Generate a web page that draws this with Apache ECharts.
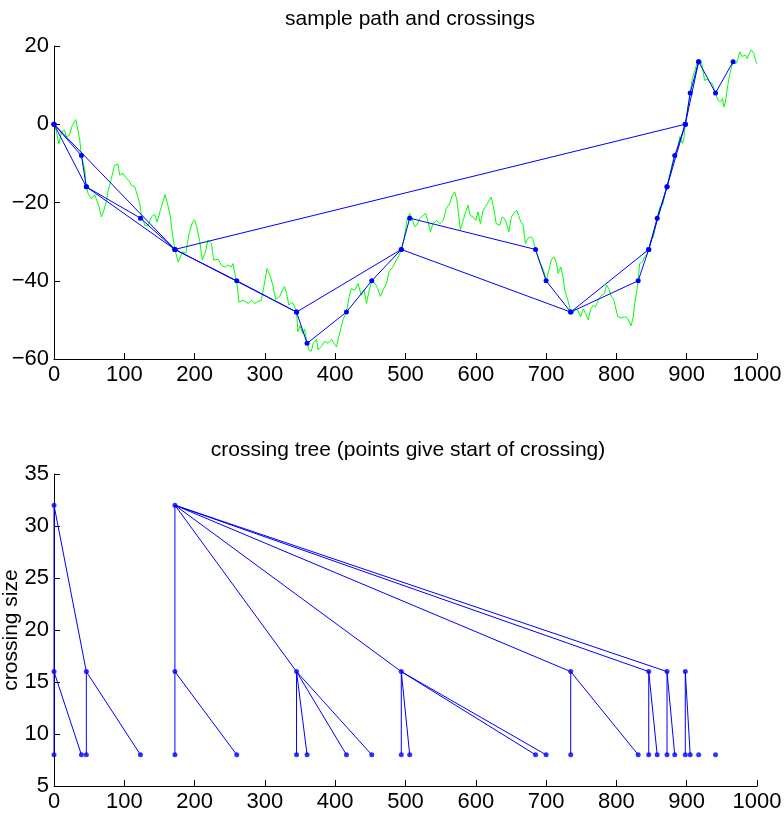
<!DOCTYPE html>
<html>
<head>
<meta charset="utf-8">
<script src="https://cdn.jsdelivr.net/npm/echarts@6/dist/echarts.min.js"></script>
<style>html,body{margin:0;padding:0;background:#fff}#c{width:784px;height:814px}</style>
</head>
<body>
<div id="c"></div>
<script>
// ---- sample path ----
var pathT = [0,3,7,10.5,15,17.6,22,26,31,34,36.6,39,43.7,46,48.5,53,58,64,67.4,71,74.5,77,81.6,86,91,93.5,98,103,107,110,115,117.4,122,124,129,133.5,138.5,143,146.7,151.3,155,158,162,165.5,169,172,176.5,179.7,182.6,187.4,192,197,200,203,207,211,216,219,224,227,233.6,238,243,247.6,252,254.6,258.5,260,263,269,276,281,285.6,290,295,299.7,303,307,310.7,315.4,321,325,328,330.6,334,339,342.4,345,347,350,354,356.4,360,362.8,366,368.7,373.5,375.6,380,385,390,395,398,401.7,406.4,411,416,420,423,428,432.5,437,441,444.5,448.5,452,456.5,460,464.3,468,473,476.6,482,487,491,494,497.5,500.3,502.7,506,509.5,513,516,520,525,528.7,532,535.4,539,544,549,553.6,558,563,566.7,570,573,576,578,582,585.6,589,592,596,600,603,606.5,610.4,615,617,622,626,629,634,637.6,641,645,647,650.6,654,658,661,664,667,670.6,674,678,681,685,689.5,693,697,700,703.7,707.5,711,714.6,717,721,724,726.5,729,731,735,738,741,745,749,752.7,756,760,763.5,767,770,774,778,783,786,789.6,792.6,796,799,802,807,811,814.4,817,821,824,826,828.5,831,833,837,840,843.5,846,849,852.5,855.6,858,862,866,870,872,877,880.5,883,888,890,892.6,894,896,898,900.4,903,905,908,911,914.6,917,921,923,925.6,929,932.7,936.5,941,942,944.6,948,951,952.6,955,957.4,960,962.6,966,970,973,975.5,979,983,986,989,992,995.6,998,1000];
var pathV = [0,-1.5,-5,-2,-1.5,-3.2,-2.8,-0.3,1.2,-1.5,-4,-8,-11.7,-16,-17.7,-19,-18,-21,-23.7,-22,-19.8,-17,-13.9,-10.5,-10.2,-13,-12.5,-13.9,-14.5,-15.6,-16,-16,-20.3,-22.8,-25.8,-26,-23.7,-23,-25,-22,-19.8,-18,-20.7,-23.7,-28.8,-32,-35.2,-34,-32.6,-33,-28,-25,-24.4,-26.2,-29.6,-34.7,-32.2,-29.6,-30.5,-34.7,-34.5,-36,-36.5,-36,-36.5,-35.6,-39.4,-40,-45.4,-45,-45.8,-45,-45.8,-45.3,-45,-40.3,-36.9,-38.5,-40.7,-44.8,-44,-42.4,-41.5,-43,-46.2,-45.5,-46.7,-48,-53,-51.5,-53.5,-52.3,-56,-57.7,-58,-56,-55,-57.7,-56.8,-55.5,-56,-55,-56,-56.9,-53.4,-50,-48,-44,-42,-42.4,-40.7,-43.7,-42.3,-45.8,-42.4,-40,-40.6,-41.8,-44,-42.4,-40.7,-37.7,-36.5,-34.7,-33.5,-32,-29.6,-26.6,-24.1,-22.8,-24.1,-26.2,-25.8,-24.1,-23.3,-22.8,-24.9,-27.5,-25.4,-24.6,-25.4,-24.6,-21.5,-20.2,-18.1,-17.3,-19.3,-23.7,-27,-24.6,-22.4,-20.7,-23.3,-23.7,-24.6,-22.4,-25.4,-22,-20.7,-20.7,-18.6,-22,-25.4,-25.8,-23.7,-24.1,-26.2,-27.5,-23.7,-22.8,-22,-23.3,-25,-25.4,-30.5,-29.2,-28.8,-29.2,-32,-34.7,-36,-37.7,-40,-37.5,-34.7,-33.9,-35.3,-38.1,-36.5,-39,-42.4,-43.9,-45,-48,-48.3,-47.2,-47.5,-49.2,-47.2,-48.3,-50,-47.2,-46.3,-46.7,-45,-43.9,-43.2,-41.1,-42.2,-43.9,-44.7,-47,-49.2,-49.5,-49.2,-49.4,-50,-51.5,-49.2,-45.8,-43.2,-40,-35.6,-35.2,-33.9,-33.2,-32,-29.6,-28.9,-26.2,-24,-21.1,-20.6,-17,-16,-12.2,-9.2,-8,-6.2,-3.2,-2.8,-4.9,-3.6,0,2.7,5.7,8,11.7,13.4,15.5,16,16,13.8,11.2,11.5,10.8,10.4,8,7.8,6.1,5.7,6.6,4.4,5.7,8.7,11.7,13.8,16,15.5,16.8,18.5,17.3,17.7,16.8,18.1,19,18.1,16.3,15.5];

// ---- crossings ----
var level8Starts  = [0,39,46,123,172,260,345,360,416,452,494,506,685,700,735,831,846,858,872,883,898,905,917,941];
var level8Values  = [0,-8,-16,-24,-32,-40,-48,-56,-48,-40,-32,-24,-32,-40,-48,-40,-32,-24,-16,-8,0,8,16,8];
var level8LastT = 966, level8LastV = 16;
var level16Starts = [0,46,172,345,494,735,846,872,898];
var level16Ends   = [46,172,345,494,735,846,872,898,917];
var level16Values = [0,-16,-32,-48,-32,-48,-32,-16,0];
var level16LastV = 16;
var level32Starts = [0,172];
var level32Ends   = [172,898];
var level32Values = [0,-32];
var level32LastV = 0;

// ---- ticks ----
var topYTicks = {min:-60, max:20, interval:20};
var botYTicks = {min:5, max:35, interval:5};
var xTicks = {min:0, max:1000, interval:100};

var BLUE = '#0000ff', GREEN = '#00ff00';
var FONT = 'Liberation Sans, Arial, Helvetica, sans-serif';
var FS = 22, TFS = 21;

function zip(a, b){ return a.map(function(v,i){return [v,b[i]];}); }

var path = zip(pathT, pathV);
var c8 = zip(level8Starts, level8Values).concat([[level8LastT, level8LastV]]);
var c16 = zip(level16Starts, level16Values).concat([[level16Ends[level16Ends.length-1], level16LastV]]);
var c32 = zip(level32Starts, level32Values).concat([[level32Ends[level32Ends.length-1], level32LastV]]);

var edges = [];
function addEdges(pStarts, pEnds, pSize, cStarts, cSize){
  pStarts.forEach(function(s, i){
    var e = pEnds[i];
    cStarts.forEach(function(cs){
      if (cs >= s && cs < e) edges.push([[s, pSize],[cs, cSize]]);
    });
  });
}
addEdges(level32Starts, level32Ends, 32, level16Starts, 16);
addEdges(level16Starts, level16Ends, 16, level8Starts, 8);

var treePts = level32Starts.map(function(s){return [s,32];})
  .concat(level16Starts.map(function(s){return [s,16];}))
  .concat(level8Starts.map(function(s){return [s,8];}));

function fmt(v){ return String(v).replace('-', '\u2212'); }

function axisCommon(){
  return {
    axisLine:{show:true, onZero:false, lineStyle:{color:'#000', width:1}},
    axisTick:{show:true, inside:true, length:6, lineStyle:{color:'#000', width:1}},
    axisLabel:{color:'#000', fontSize:FS, fontFamily:FONT, margin:5, formatter:fmt},
    splitLine:{show:false}
  };
}
function mk(extra){ var o = axisCommon(); for (var k in extra) o[k]=extra[k]; return o; }

var series = [
  {type:'line', xAxisIndex:0, yAxisIndex:0, data:path, showSymbol:false, symbol:'none',
   lineStyle:{color:GREEN, width:1}, animation:false, z:1},
  {type:'line', xAxisIndex:0, yAxisIndex:0, data:c8, symbol:'circle', symbolSize:5,
   itemStyle:{color:BLUE}, lineStyle:{color:BLUE, width:1}, animation:false, z:3},
  {type:'line', xAxisIndex:0, yAxisIndex:0, data:c16, symbol:'circle', symbolSize:5,
   itemStyle:{color:BLUE}, lineStyle:{color:BLUE, width:1}, animation:false, z:3},
  {type:'line', xAxisIndex:0, yAxisIndex:0, data:c32, symbol:'circle', symbolSize:5,
   itemStyle:{color:BLUE}, lineStyle:{color:BLUE, width:1}, animation:false, z:3}
];
edges.forEach(function(e){
  series.push({type:'line', xAxisIndex:1, yAxisIndex:1, data:e, symbol:'none',
    lineStyle:{color:BLUE, width:1}, animation:false, z:2});
});
series.push({type:'scatter', xAxisIndex:1, yAxisIndex:1, data:treePts, symbol:'circle', symbolSize:5,
  itemStyle:{color:BLUE}, animation:false, z:3});

var chart = echarts.init(document.getElementById('c'), null, {renderer:'canvas'});
chart.setOption({
  backgroundColor:'#fff',
  animation:false,
  title:[
    {text:'sample path and crossings', left:410, top:9, padding:0, textAlign:'center',
     textStyle:{fontSize:TFS, fontWeight:'normal', color:'#000', fontFamily:FONT}},
    {text:'crossing tree (points give start of crossing)', left:408, top:440, padding:0, textAlign:'center',
     textStyle:{fontSize:TFS, fontWeight:'normal', color:'#000', fontFamily:FONT}}
  ],
  graphic:[
    {type:'text', x:11, y:630, rotation:Math.PI/2, silent:true,
     style:{text:'crossing size', fill:'#000', fontSize:TFS, fontFamily:FONT,
            align:'center', verticalAlign:'middle', textAlign:'center', textVerticalAlign:'middle'}}
  ],
  grid:[
    {left:54, right:27, top:46, height:313, containLabel:false, outerBoundsMode:'none'},
    {left:54, right:27, top:474, height:312, containLabel:false, outerBoundsMode:'none'}
  ],
  xAxis:[
    mk({type:'value', gridIndex:0, min:xTicks.min, max:xTicks.max, interval:xTicks.interval}),
    mk({type:'value', gridIndex:1, min:xTicks.min, max:xTicks.max, interval:xTicks.interval})
  ],
  yAxis:[
    mk({type:'value', gridIndex:0, min:topYTicks.min, max:topYTicks.max, interval:topYTicks.interval}),
    mk({type:'value', gridIndex:1, min:botYTicks.min, max:botYTicks.max, interval:botYTicks.interval})
  ],
  series:series
});
</script>
</body>
</html>
